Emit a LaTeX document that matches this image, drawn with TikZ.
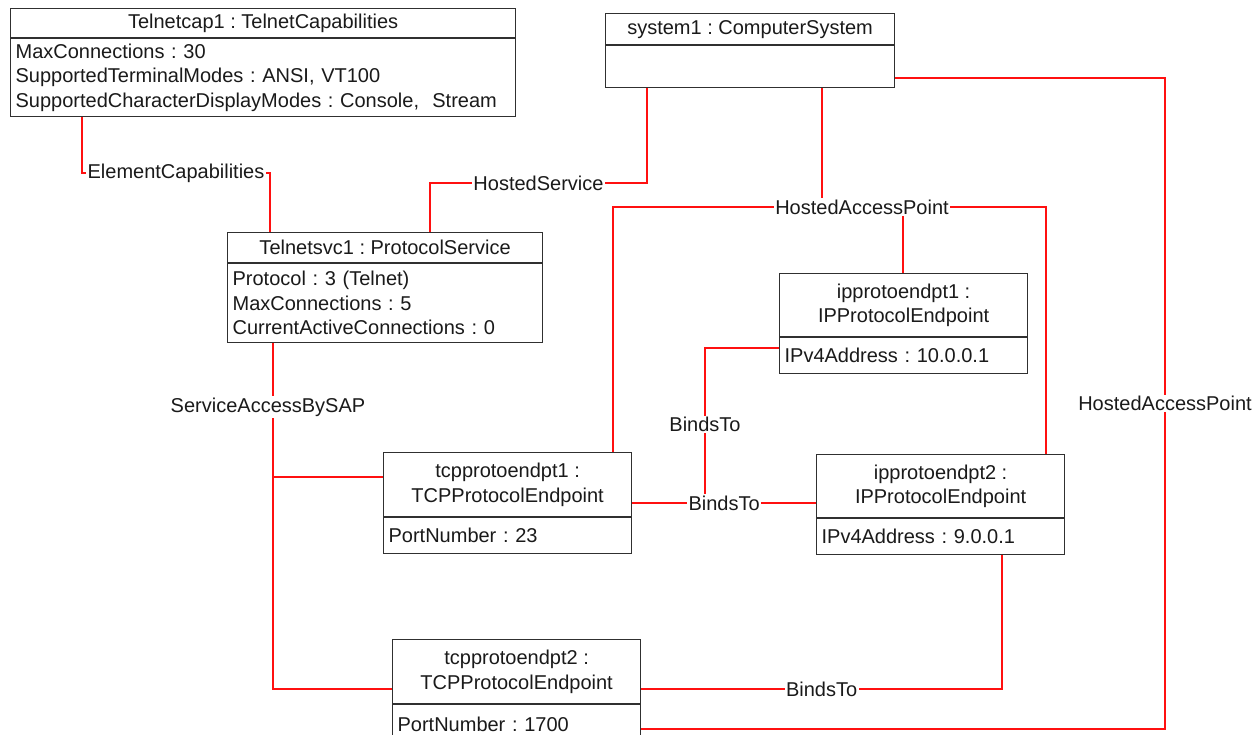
\documentclass[tikz,border=0pt]{standalone}
\usepackage{fontspec}
\setmainfont{Liberation Sans}
\frenchspacing
\definecolor{conn}{HTML}{FF1010}
\definecolor{ink}{HTML}{1A1A1A}
\definecolor{edge}{HTML}{303030}
\tikzset{
  every node/.style={font=\fontsize{20}{24.5}\selectfont, text=ink},
  hdr/.style={draw=edge, line width=1.2pt, fill=white, inner sep=0pt, align=center, anchor=north west},
  attr/.style={draw=edge, line width=1.2pt, fill=white, inner xsep=5pt, inner ysep=0pt, align=left, anchor=north west},
  wire/.style={draw=conn, line width=1.1pt},
  lbl/.style={fill=white, inner sep=1.5pt},
}
\begin{document}
\begin{tikzpicture}[x=1pt,y=-1pt]
\useasboundingbox[fill=white] (0,0) rectangle (1258,734);

% objects
\node[hdr, minimum width=505pt, minimum height=29pt] (cap) at (10,8) {Telnetcap1 : TelnetCapabilities};
\node[attr, text width=495pt, minimum height=78pt] (capb) at (cap.south west) {MaxConnections : 30\\SupportedTerminalModes : ANSI, VT100\\SupportedCharacterDisplayModes : Console,~ Stream};

\node[hdr, minimum width=289pt, minimum height=31pt] (sys) at (605,13) {system1 : ComputerSystem};
\node[attr, text width=279pt, minimum height=42pt] (sysb) at (sys.south west) {};

\node[hdr, minimum width=315pt, minimum height=30pt] (svc) at (227,232) {Telnetsvc1 : ProtocolService};
\node[attr, text width=305pt, minimum height=79pt] (svcb) at (svc.south west) {Protocol : 3 (Telnet)\\MaxConnections : 5\\CurrentActiveConnections : 0};

\node[hdr, minimum width=248pt, minimum height=63pt] (ip1) at (779,273) {ipprotoendpt1 :\\IPProtocolEndpoint};
\node[attr, text width=238pt, minimum height=36pt] (ip1b) at (ip1.south west) {IPv4Address : 10.0.0.1};

\node[hdr, minimum width=248pt, minimum height=64pt] (tcp1) at (383,452) {tcpprotoendpt1 :\\TCPProtocolEndpoint};
\node[attr, text width=238pt, minimum height=36pt] (tcp1b) at (tcp1.south west) {PortNumber : 23};

\node[hdr, minimum width=248pt, minimum height=63pt] (ip2) at (816,454) {ipprotoendpt2 :\\IPProtocolEndpoint};
\node[attr, text width=238pt, minimum height=36pt] (ip2b) at (ip2.south west) {IPv4Address : 9.0.0.1};

\node[hdr, minimum width=248pt, minimum height=64pt] (tcp2) at (392,639) {tcpprotoendpt2 :\\TCPProtocolEndpoint};
\node[attr, text width=238pt, minimum height=40pt] (tcp2b) at (tcp2.south west) {PortNumber : 1700};

% ElementCapabilities
\coordinate (ec1) at (82,173);
\coordinate (ec2) at (270,173);
\draw[wire] (capb.south -| ec1) -- (ec1) -- node[lbl]{ElementCapabilities} (ec2) -- (svc.north -| ec2);

% HostedService
\coordinate (hs1) at (430,183);
\coordinate (hs2) at (647,183);
\draw[wire] (svc.north -| hs1) -- (hs1) -- node[lbl]{HostedService} (hs2) -- (sysb.south -| hs2);

% HostedAccessPoint (top)
\coordinate (ha1) at (613,207);
\coordinate (ha2) at (1046,207);
\coordinate (ha3) at (822,207);
\coordinate (ha4) at (903,207);
\draw[wire] (sysb.south -| ha3) -- (ha3);
\draw[wire] (ha4) -- (ip1.north -| ha4);
\draw[wire] (tcp1.north -| ha1) -- (ha1) -- (ha2) -- (ip2.north -| ha2);
\node[lbl] (hap) at (862,207) {HostedAccessPoint};

% HostedAccessPoint (right)
\coordinate (hb1) at (1165,78);
\coordinate (hb2) at (1165,729);
\draw[wire] (sysb.east |- hb1) -- (hb1) -- node[lbl]{HostedAccessPoint} (hb2) -- (tcp2b.east |- hb2);

% ServiceAccessBySAP
\coordinate (sa1) at (273,477);
\coordinate (sa2) at (273,689);
\draw[wire] (svcb.south -| sa1) -- (sa2) -- (tcp2.west |- sa2);
\draw[wire] (sa1) -- (tcp1.west |- sa1);
\node[lbl] (sap) at (268,407) {ServiceAccessBySAP};

% BindsTo
\coordinate (bt1) at (705,348);
\coordinate (bt2) at (705,495);
\draw[wire] (ip1b.west |- bt1) -- (bt1) -- node[lbl, pos=0.52]{BindsTo} (bt2);
\coordinate (bt3) at (723,503);
\draw[wire] (tcp1.east |- bt3) -- node[lbl]{BindsTo} (ip2.west |- bt3);
\coordinate (bt4) at (1002,689);
\draw[wire] (tcp2.east |- bt4) -- node[lbl]{BindsTo} (bt4) -- (ip2b.south -| bt4);
\end{tikzpicture}
\end{document}
